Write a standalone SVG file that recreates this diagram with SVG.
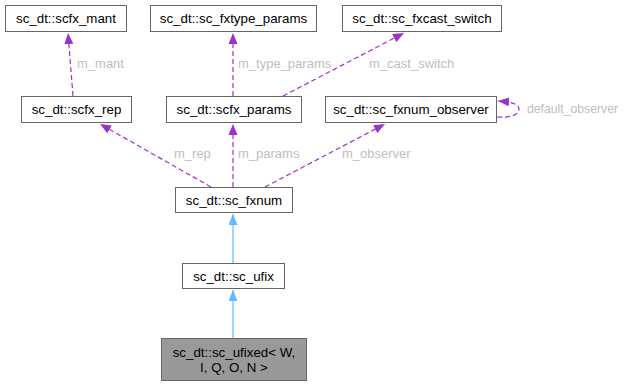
<svg xmlns="http://www.w3.org/2000/svg" width="624" height="387" viewBox="0 0 624 387">
  <style>
    .node rect { fill: #ffffff; stroke: #666666; stroke-width: 1; }
    .node.leaf rect { fill: #999999; }
    .node text { font-family: "Liberation Sans", Arial, sans-serif; font-size: 13.33px; fill: #000000; text-anchor: middle; }
    .use { fill: none; stroke: #9a32cd; stroke-width: 1.2; stroke-dasharray: 5,3; marker-end: url(#arrowUse); }
    .inherit { fill: none; stroke: #63b8ff; stroke-width: 1.2; marker-end: url(#arrowInherit); }
    .lbl { font-family: "Liberation Sans", Arial, sans-serif; font-size: 13px; fill: #bebebe; }
  </style>
  <defs>
    <marker id="arrowUse" viewBox="0 0 11 9" refX="11" refY="4.5" markerWidth="11" markerHeight="9" markerUnits="userSpaceOnUse" orient="auto">
      <path d="M0,0 L11,4.5 L0,9 z" fill="#9a32cd"/>
    </marker>
    <marker id="arrowInherit" viewBox="0 0 11 9" refX="11" refY="4.5" markerWidth="11" markerHeight="9" markerUnits="userSpaceOnUse" orient="auto">
      <path d="M0,0 L11,4.5 L0,9 z" fill="#63b8ff"/>
    </marker>
  </defs>

  <!-- connectors -->
  <g id="edges">
    <path class="use" d="M73,96 L68,33"/>
    <path class="use" d="M233,96 L233,33"/>
    <path class="use" d="M283,96 L404,33"/>
    <path class="use" d="M497,117 C510,118 519,115 519,109 C519,104 512,102 498,101"/>
    <path class="use" d="M211,187 L100,124"/>
    <path class="use" d="M233,187 L233,124"/>
    <path class="use" d="M265,187 L385,124"/>
    <path class="inherit" d="M233,263 L233,214"/>
    <path class="inherit" d="M233,338 L233,290"/>

    <text class="lbl" x="77" y="68">m_mant</text>
    <text class="lbl" x="238" y="68">m_type_params</text>
    <text class="lbl" x="369" y="68">m_cast_switch</text>
    <text class="lbl" x="527" y="113" textLength="91" lengthAdjust="spacingAndGlyphs">default_observer</text>
    <text class="lbl" x="174" y="158">m_rep</text>
    <text class="lbl" x="238" y="158">m_params</text>
    <text class="lbl" x="342" y="158">m_observer</text>
  </g>

  <!-- nodes -->
  <g id="scfx_mant" class="node">
    <rect x="5.5" y="5.5" width="121" height="26"/>
    <text x="66" y="23">sc_dt::scfx_mant</text>
  </g>
  <g id="sc_fxtype_params" class="node">
    <rect x="150.5" y="5.5" width="166" height="26"/>
    <text x="233.5" y="23">sc_dt::sc_fxtype_params</text>
  </g>
  <g id="sc_fxcast_switch" class="node">
    <rect x="342.5" y="5.5" width="159" height="26"/>
    <text x="422" y="23">sc_dt::sc_fxcast_switch</text>
  </g>
  <g id="scfx_rep" class="node">
    <rect x="21.5" y="96.5" width="110" height="26"/>
    <text x="76.5" y="114">sc_dt::scfx_rep</text>
  </g>
  <g id="scfx_params" class="node">
    <rect x="166.5" y="96.5" width="135" height="26"/>
    <text x="234" y="114">sc_dt::scfx_params</text>
  </g>
  <g id="sc_fxnum_observer" class="node">
    <rect x="325.5" y="96.5" width="171" height="26"/>
    <text x="411" y="114">sc_dt::sc_fxnum_observer</text>
  </g>
  <g id="sc_fxnum" class="node">
    <rect x="175.5" y="187.5" width="117" height="25"/>
    <text x="234" y="205">sc_dt::sc_fxnum</text>
  </g>
  <g id="sc_ufix" class="node">
    <rect x="182.5" y="263.5" width="102" height="25"/>
    <text x="233.5" y="281">sc_dt::sc_ufix</text>
  </g>
  <g id="sc_ufixed" class="node leaf">
    <rect x="161.5" y="338.5" width="145" height="42"/>
    <text x="234" y="357">sc_dt::sc_ufixed&lt; W,</text>
    <text x="234" y="372">I, Q, O, N &gt;</text>
  </g>
</svg>
